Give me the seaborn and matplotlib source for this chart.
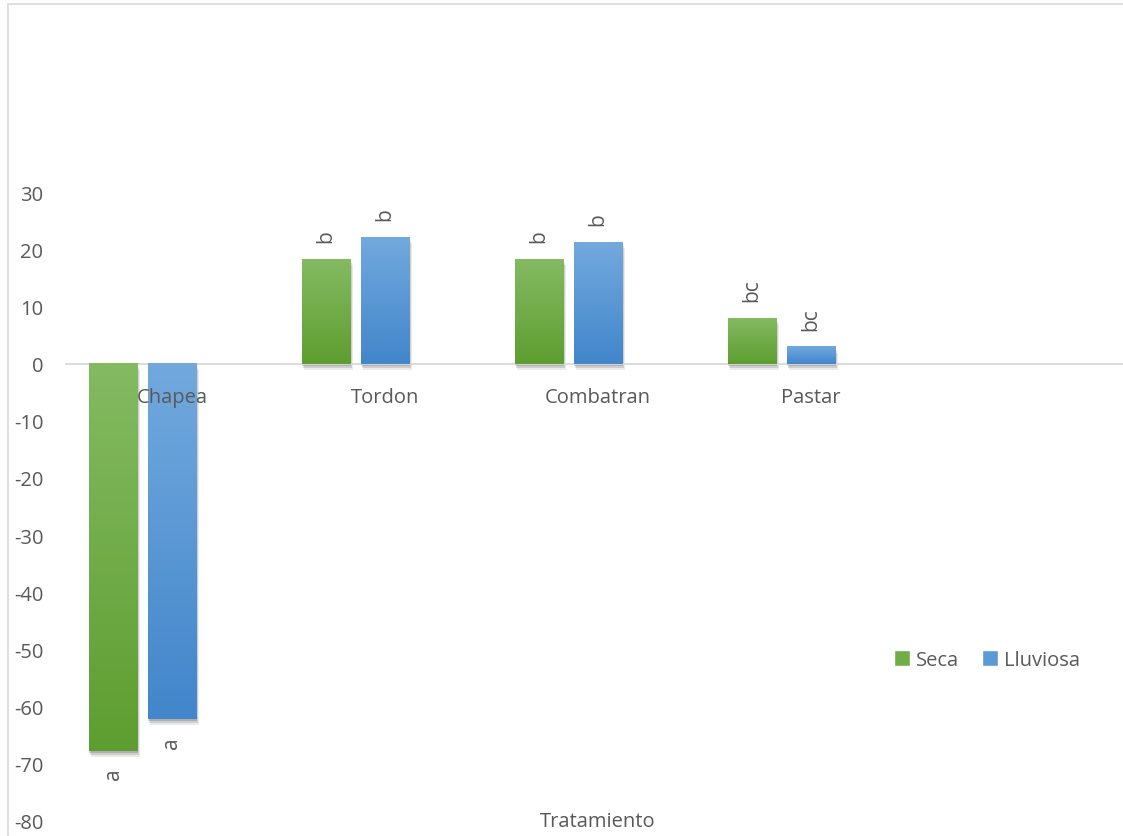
import numpy as np
import pandas as pd
import matplotlib
matplotlib.use("Agg")
import matplotlib.pyplot as plt
import matplotlib.patheffects as pe
from matplotlib.patches import Patch, Rectangle
from matplotlib.colors import to_rgb
import seaborn as sns

# datos
tratamientos = ["Chapea", "Tordon", "Combatran", "Pastar", ""]
seca = [-67.7, 18.3, 18.3, 8.0, np.nan]
lluviosa = [-62.2, 22.2, 21.3, 3.0, np.nan]
vacia = [np.nan] * 5   # tercera serie vacia del Excel (deja hueco a la derecha)
letras_seca = ["a", "b", "b", "bc", ""]
letras_lluviosa = ["a", "b", "b", "bc", ""]

epocas = ["Seca", "Lluviosa", "Vacia"]
verde = "#70AD47"
azul = "#5B9BD5"
gris_txt = "#595959"
gris_linea = "#D9D9D9"

df = pd.DataFrame({
    "Tratamiento": tratamientos * 3,
    "Epoca": ["Seca"] * 5 + ["Lluviosa"] * 5 + ["Vacia"] * 5,
    "valor": seca + lluviosa + vacia,
})

sns.set_theme(style="white")
plt.rcParams["font.family"] = ["Open Sans", "DejaVu Sans"]
plt.rcParams["axes.unicode_minus"] = False

fig = plt.figure(figsize=(11.23, 8.37), dpi=100)
ax = fig.add_axes([65.5 / 1123, 1 - 822 / 837, 1065 / 1123, 629 / 837])

sns.barplot(data=df, x="Tratamiento", y="valor", hue="Epoca",
            order=tratamientos, hue_order=epocas,
            palette={"Seca": verde, "Lluviosa": azul, "Vacia": "white"},
            width=0.83, gap=0.17, errorbar=None, legend=False, ax=ax)

ax.set_xlim(-0.5, 4.5)
ax.set_ylim(-80, 30)
ax.set_yticks(np.arange(-80, 31, 10))

# degradado + sombra en cada barra
degradados = {
    "Seca": ("#84BA62", "#5E9E30"),
    "Lluviosa": ("#72A9DD", "#4286CB"),
}
letras = {"Seca": letras_seca, "Lluviosa": letras_lluviosa}
for cont, ep in zip(ax.containers, epocas):
    if ep not in degradados:
        continue
    c1, c2 = [np.array(to_rgb(c)) for c in degradados[ep]]
    t = np.linspace(0, 1, 60)[:, None]
    img = (c1 * (1 - t) + c2 * t)[:, None, :]
    labs = []
    for p in cont:
        h = p.get_height()
        if not np.isfinite(h) or h == 0:
            labs.append("")
            continue
        x0, w, y0 = p.get_x(), p.get_width(), p.get_y()
        ymin, ymax = min(y0, y0 + h), max(y0, y0 + h)
        p.set_edgecolor("none")
        p.set_path_effects([
            pe.SimplePatchShadow(offset=(1.5, -4.5), shadow_rgbFace="black", alpha=0.08),
            pe.SimplePatchShadow(offset=(1, -3), shadow_rgbFace="black", alpha=0.12),
            pe.SimplePatchShadow(offset=(0.5, -1.5), shadow_rgbFace="black", alpha=0.15),
            pe.Normal(),
        ])
        ax.imshow(img, extent=[x0, x0 + w, ymin, ymax], aspect="auto",
                  origin="upper", interpolation="bilinear", zorder=2)
        idx = int(round(x0 + w / 2 - 0.1))
        labs.append(letras[ep][idx] if 0 <= idx < len(letras[ep]) else "")
    ax.bar_label(cont, labels=labs, rotation=90, padding=12,
                 fontsize=15, color=gris_txt)

ax.set_xlim(-0.5, 4.5)
ax.set_ylim(-80, 30)

for s in ["top", "right", "left"]:
    ax.spines[s].set_visible(False)
ax.spines["bottom"].set_position(("data", 0))
ax.spines["bottom"].set_color(gris_linea)
ax.spines["bottom"].set_linewidth(1.3)
ax.spines["bottom"].set_zorder(1.5)
ax.xaxis.set_zorder(5)
ax.tick_params(axis="both", length=0, labelsize=14.5, labelcolor=gris_txt)
ax.tick_params(axis="x", pad=17)
ax.tick_params(axis="y", pad=16)
ax.set_xlabel("")
ax.set_ylabel("")
ax.patch.set_alpha(0)

fig.text(598 / 1123, 1 - 822 / 837, "Tratamiento", ha="center", va="center",
         fontsize=14.5, color=gris_txt)

fig.legend(handles=[Patch(facecolor=verde), Patch(facecolor=azul)],
           labels=["Seca", "Lluviosa"], loc="center",
           bbox_to_anchor=(987 / 1123, 1 - 661 / 837), ncol=2, frameon=False,
           handlelength=0.8, handleheight=0.8, handletextpad=0.3,
           columnspacing=1.1, fontsize=14.5, labelcolor=gris_txt)

# borde del area del grafico
fig.patches.append(Rectangle((8 / 1123, -0.2), 1.2, 1.2 - 5 / 837,
                             transform=fig.transFigure, fill=False,
                             edgecolor=gris_linea, linewidth=1.2, zorder=0))

fig.savefig("out.png", dpi=100)
